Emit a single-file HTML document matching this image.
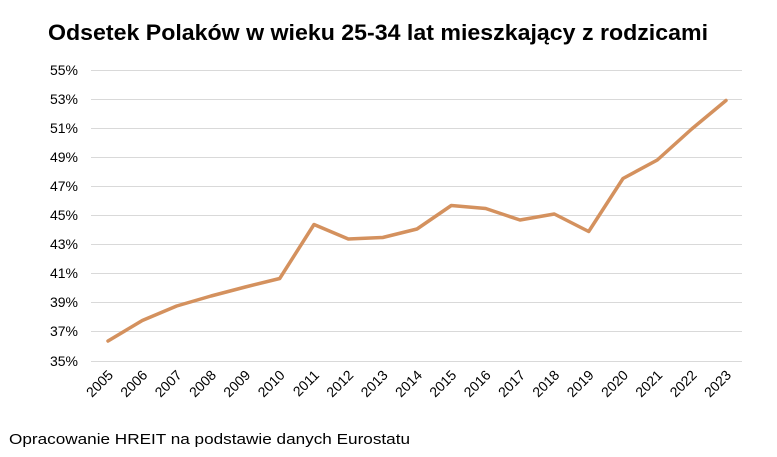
<!DOCTYPE html>
<html><head><meta charset="utf-8"><style>
body{margin:0;background:#fff;}
svg text{font-family:"Liberation Sans",sans-serif;}
</style></head><body>
<svg width="777" height="452" xmlns="http://www.w3.org/2000/svg">
<rect width="777" height="452" fill="#fff"/>
<text x="48" y="40" font-size="22" font-weight="bold" fill="#000" textLength="660" lengthAdjust="spacingAndGlyphs">Odsetek Polaków w wieku 25-34 lat mieszkający z rodzicami</text>
<g stroke="#d9d9d9" stroke-width="1">
<line x1="91" x2="742" y1="70.5" y2="70.5"/>
<line x1="91" x2="742" y1="99.5" y2="99.5"/>
<line x1="91" x2="742" y1="128.5" y2="128.5"/>
<line x1="91" x2="742" y1="157.5" y2="157.5"/>
<line x1="91" x2="742" y1="186.5" y2="186.5"/>
<line x1="91" x2="742" y1="215.5" y2="215.5"/>
<line x1="91" x2="742" y1="244.5" y2="244.5"/>
<line x1="91" x2="742" y1="273.5" y2="273.5"/>
<line x1="91" x2="742" y1="302.5" y2="302.5"/>
<line x1="91" x2="742" y1="331.5" y2="331.5"/>
<line x1="91" x2="742" y1="361.5" y2="361.5"/>
</g>
<g font-size="14" fill="#000" text-anchor="end">
<text x="78" y="75">55%</text><text x="78" y="104">53%</text><text x="78" y="133">51%</text>
<text x="78" y="162">49%</text><text x="78" y="191">47%</text><text x="78" y="220">45%</text>
<text x="78" y="249">43%</text><text x="78" y="278">41%</text><text x="78" y="307">39%</text>
<text x="78" y="336">37%</text><text x="78" y="366">35%</text>
</g>
<polyline fill="none" stroke="#D4915E" stroke-width="3.5" stroke-linejoin="round" stroke-linecap="round" points="108,341 142.3,320.5 176.7,306 211,296 245.3,287 279.7,278.5 314,224.5 348.3,239 382.7,237.5 417,229 451.3,205.5 485.7,208.5 520,220 554.3,214 588.7,231.5 623,178.5 657.3,160 691.7,129 726,100.5"/>
<g font-size="14" fill="#000" text-anchor="end">
<text transform="translate(114,376) rotate(-45)">2005</text>
<text transform="translate(148.3,376) rotate(-45)">2006</text>
<text transform="translate(182.7,376) rotate(-45)">2007</text>
<text transform="translate(217,376) rotate(-45)">2008</text>
<text transform="translate(251.3,376) rotate(-45)">2009</text>
<text transform="translate(285.7,376) rotate(-45)">2010</text>
<text transform="translate(320,376) rotate(-45)">2011</text>
<text transform="translate(354.3,376) rotate(-45)">2012</text>
<text transform="translate(388.7,376) rotate(-45)">2013</text>
<text transform="translate(423,376) rotate(-45)">2014</text>
<text transform="translate(457.3,376) rotate(-45)">2015</text>
<text transform="translate(491.7,376) rotate(-45)">2016</text>
<text transform="translate(526,376) rotate(-45)">2017</text>
<text transform="translate(560.3,376) rotate(-45)">2018</text>
<text transform="translate(594.7,376) rotate(-45)">2019</text>
<text transform="translate(629,376) rotate(-45)">2020</text>
<text transform="translate(663.3,376) rotate(-45)">2021</text>
<text transform="translate(697.7,376) rotate(-45)">2022</text>
<text transform="translate(732,376) rotate(-45)">2023</text>
</g>
<text x="9" y="444" font-size="15" fill="#000" textLength="401" lengthAdjust="spacingAndGlyphs">Opracowanie HREIT na podstawie danych Eurostatu</text>
</svg>
</body></html>
